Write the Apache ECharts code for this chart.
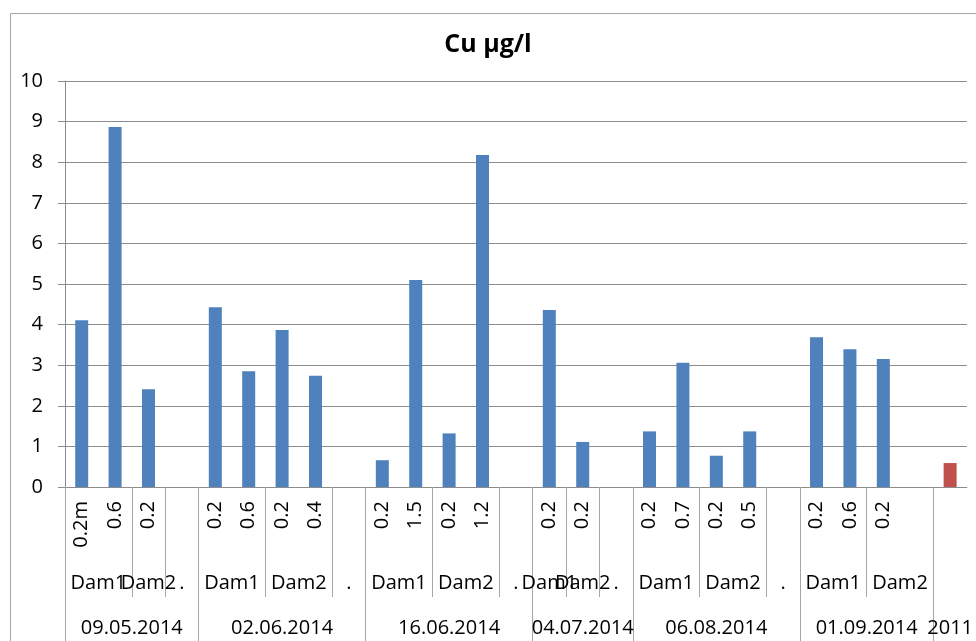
<!DOCTYPE html>
<html>
<head>
    <meta charset="utf-8">
    <title>Cu µg/l</title>
    <script src="https://cdn.jsdelivr.net/npm/echarts@6/dist/echarts.min.js"></script>
</head>
<body style="margin:0">
<div id="main" style="width: 976px;height:641px"></div>
<script type="text/javascript">

    // 深度（最下一级分类）
    var depthLabels = ['0.2m', '0.6', '0.2', '', '0.2', '0.6', '0.2', '0.4', '', '0.2', '1.5', '0.2', '1.2', '',
        '0.2', '0.2', '', '0.2', '0.7', '0.2', '0.5', '', '0.2', '0.6', '0.2', '', ''];
    // Cu 值
    var cuValues = [4.11, 8.87, 2.41, null, 4.43, 2.85, 3.87, 2.74, null, 0.66, 5.10, 1.32, 8.18, null,
        4.36, 1.11, null, 1.37, 3.06, 0.77, 1.37, null, 3.69, 3.39, 3.15, null, null];
    // 2011 对比值（红色）
    var refValues = [null, null, null, null, null, null, null, null, null, null, null, null, null, null,
        null, null, null, null, null, null, null, null, null, null, null, null, 0.59];

    // 中间一级：Dam
    var damLabels = ['Dam1', 'Dam2', '.', 'Dam1', 'Dam2', '.', 'Dam1', 'Dam2', '.', 'Dam1', 'Dam2', '.',
        'Dam1', 'Dam2', '.', 'Dam1', 'Dam2', ''];
    var damBounds = [0, 2, 3, 4, 6, 8, 9, 11, 13, 14, 15, 16, 17, 19, 21, 22, 24, 26, 27];

    // 最上一级：日期
    var dateLabels = ['09.05.2014', '02.06.2014', '16.06.2014', '04.07.2014', '06.08.2014', '01.09.2014', '2011'];
    var dateBounds = [0, 4, 9, 14, 17, 22, 26, 27];

    var yTicks = [0, 10, 1]; // min, max, interval

    // 由分界点计算标签中心；开头放一个空标签，避免首标签与第二个标签重叠时被隐藏
    function groupAxis(labels, bounds) {
        var centers = [0], map = {'0': ''};
        for (var i = 0; i < labels.length; i++) {
            var c = (bounds[i] + bounds[i + 1]) / 2;
            centers.push(c);
            map[String(c)] = labels[i];
        }
        return {centers: centers, ticks: bounds.slice(0, bounds.length - 1), map: map};
    }
    var damAxis = groupAxis(damLabels, damBounds);
    var dateAxis = groupAxis(dateLabels, dateBounds);

    var font = '"Open Sans", sans-serif';
    var lineColor = '#8c8c8c';

    function levelAxis(g, tickLen, margin) {
        return {
            type: 'value',
            position: 'bottom',
            offset: 0,
            min: 0,
            max: depthLabels.length,
            axisLine: {show: false},
            splitLine: {show: false},
            axisTick: {show: true, customValues: g.ticks, length: tickLen, lineStyle: {color: '#a6a6a6'}},
            axisLabel: {
                customValues: g.centers,
                hideOverlap: false,
                margin: margin,
                color: '#000',
                fontSize: 20,
                fontFamily: font,
                formatter: function (v) { return g.map[String(v)] || ''; }
            }
        };
    }

    var myChart = echarts.init(document.getElementById('main'));

    myChart.setOption({
        animation: false,
        title: {
            text: 'Cu µg/l',
            left: 'center',
            top: 27,
            textStyle: {fontSize: 25, fontWeight: 'bold', color: '#000', fontFamily: font}
        },
        graphic: [{
            type: 'rect',
            shape: {x: 10.5, y: 13.5, width: 1000, height: 700},
            style: {fill: 'none', stroke: '#a6a6a6', lineWidth: 1},
            silent: true
        }],
        grid: {left: 65, right: 5, top: 81, bottom: 154},
        xAxis: [
            {
                type: 'category',
                position: 'bottom',
                data: depthLabels,
                axisLine: {lineStyle: {color: lineColor}},
                axisTick: {length: 65, lineStyle: {color: '#a6a6a6'}},
                axisLabel: {rotate: 90, margin: 14, interval: 0, color: '#000', fontSize: 20, fontFamily: font}
            },
            levelAxis(damAxis, 110, 86),
            levelAxis(dateAxis, 170, 131)
        ],
        yAxis: {
            type: 'value',
            min: yTicks[0],
            max: yTicks[1],
            interval: yTicks[2],
            axisLine: {show: true, lineStyle: {color: lineColor}},
            axisTick: {show: true, length: 7, lineStyle: {color: lineColor}},
            axisLabel: {margin: 22, color: '#000', fontSize: 20, fontFamily: font},
            splitLine: {lineStyle: {color: lineColor}}
        },
        series: [
            {
                type: 'bar',
                data: cuValues,
                barWidth: 13,
                itemStyle: {color: '#4f81bd'}
            },
            {
                type: 'bar',
                data: refValues,
                barWidth: 13,
                barGap: '-100%',
                itemStyle: {color: '#c0504d'}
            }
        ]
    });
</script>
</body>
</html>
